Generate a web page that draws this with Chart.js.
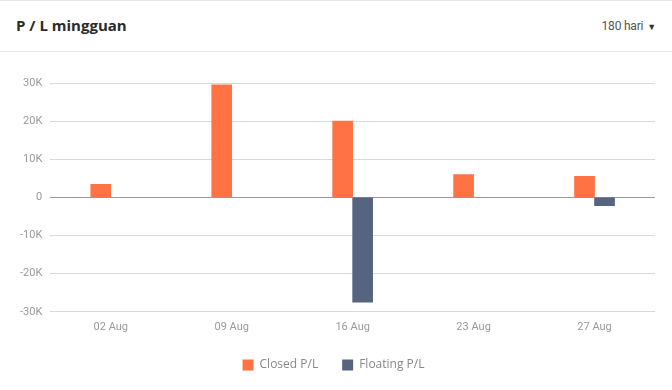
<!DOCTYPE html>
<html>
<head>
<meta charset="utf-8">
<script src="https://cdn.jsdelivr.net/npm/chart.js@4/dist/chart.umd.min.js"></script>
<style>
  html, body { margin: 0; padding: 0; background: #fff; }
  body { width: 672px; height: 390px; position: relative; overflow: hidden; font-family: "Open Sans", sans-serif; }
  .header { position: absolute; left: 0; top: 0; width: 672px; height: 50px; border-top: 1px solid #e6e6e6; border-bottom: 1px solid #e6e6e6; }
  .title { position: absolute; left: 16px; top: 14px; font-size: 15px; font-weight: 700; color: #2b2b2b; }
  .period { position: absolute; right: 16px; top: 18px; font-family: Roboto, sans-serif; font-size: 12px; color: #555; letter-spacing: -0.2px; }
  .period span { font-size: 9px; margin-left: 4px; color: #333; }
  .wrap { position: absolute; left: 0; top: 52px; width: 672px; height: 338px; }
</style>
</head>
<body>
<div class="header">
  <div class="title">P / L mingguan</div>
  <div class="period">180 hari<span>&#9660;</span></div>
</div>
<div class="wrap"><canvas id="plChart"></canvas></div>
<script>
// weekly P/L data
const weekLabels = ['02 Aug', '09 Aug', '16 Aug', '23 Aug', '27 Aug'];
const closedPL = [3400, 29500, 20000, 6000, 5500];
const floatingPL = [null, null, -27500, null, -2200];
const yTicks = [-30000, -20000, -10000, 0, 10000, 20000, 30000];

const ctx = document.getElementById('plChart');

new Chart(ctx.getContext('2d'), {
    type: 'bar',
    data: {
        labels: weekLabels,
        datasets: [
            {
                label: 'Closed P/L',
                data: closedPL,
                backgroundColor: '#FF7243',
                barThickness: 20
            },
            {
                label: 'Floating P/L',
                data: floatingPL,
                backgroundColor: '#56647F',
                barThickness: 20
            }
        ]
    },
    options: {
        responsive: true,
        maintainAspectRatio: false,
        animation: false,
        layout: {
            padding: { top: 31, right: 17, left: 12, bottom: 9 }
        },
        plugins: {
            legend: {
                position: 'bottom',
                labels: {
                    boxWidth: 11,
                    boxHeight: 11,
                    padding: 24,
                    color: '#888',
                    font: { family: 'Open Sans', size: 12 }
                }
            },
            tooltip: { enabled: false }
        },
        scales: {
            y: {
                min: -30000,
                max: 30000,
                afterBuildTicks: function(axis) {
                    axis.ticks = yTicks.map(v => ({ value: v }));
                },
                ticks: {
                    padding: 8,
                    color: '#999',
                    font: { family: 'Roboto', size: 11 },
                    callback: function(value) {
                        return value === 0 ? '0' : (value / 1000) + 'K';
                    }
                },
                border: { display: false },
                grid: {
                    drawTicks: false,
                    color: function(c) {
                        return c.tick && c.tick.value === 0 ? '#9a9a9a' : '#d9d9d9';
                    }
                }
            },
            x: {
                ticks: {
                    padding: 1,
                    color: '#999',
                    font: { family: 'Roboto', size: 11 }
                },
                border: { display: false },
                grid: { display: false }
            }
        }
    }
});
</script>
</body>
</html>
